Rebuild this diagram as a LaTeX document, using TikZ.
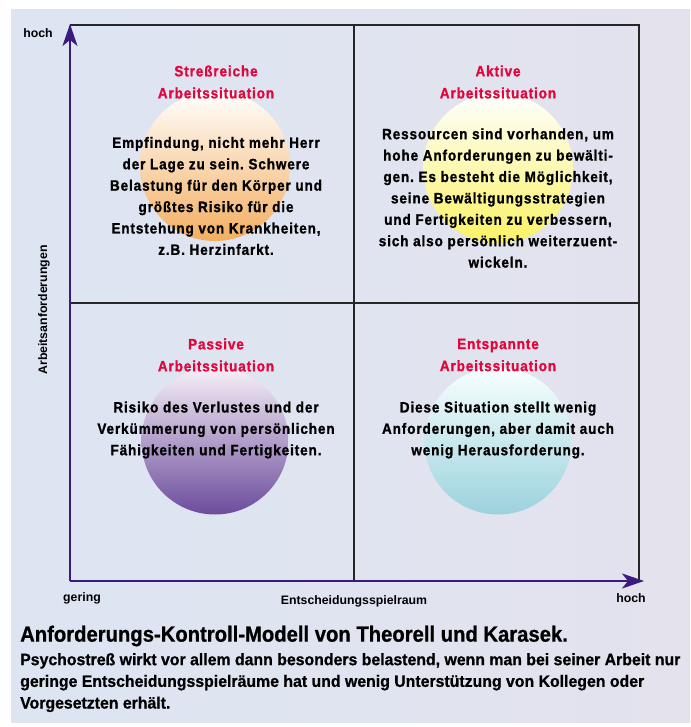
\documentclass[tikz,border=0pt]{standalone}
\usepackage{fontspec}
\setmainfont{Liberation Sans}
\newfontfamily\quadfont{Liberation Sans Bold}[FakeStretch=0.9,LetterSpace=6,FakeBold=1.2]
\newfontfamily\capfont{Liberation Sans Bold}[FakeStretch=0.92,FakeBold=0.8]
\newfontfamily\captextfont{Liberation Sans Bold}[FakeStretch=0.96,FakeBold=0.8]
\newfontfamily\axfont{Liberation Sans Bold}
\usepackage{tikz}
\usetikzlibrary{arrows.meta,positioning,calc}
\definecolor{titlered}{HTML}{E1063C}
\definecolor{axisviolet}{HTML}{3D1A80}
\definecolor{panelleft}{HTML}{DDE5F3}
\definecolor{panelright}{HTML}{E3E2ED}
\definecolor{orangebot}{RGB}{243,174,96}
\definecolor{yellowbot}{RGB}{250,242,100}
\definecolor{violetbot}{RGB}{107,76,156}
\definecolor{cyanbot}{RGB}{156,210,221}
\frenchspacing

\begin{document}
\begin{tikzpicture}[x=1pt,y=-1pt,
   qtitle/.style={align=center,text=titlered,font=\quadfont\fontsize{15}{22}\selectfont,inner sep=0pt},
   qtext/.style={align=center,font=\quadfont\fontsize{15}{21.4}\selectfont,inner sep=0pt},
   axlabel/.style={font=\axfont\fontsize{12.3}{14}\selectfont,inner sep=0pt},
   blob/.style={circle,minimum size=150pt,inner sep=0pt},
   frame/.style={draw=black!85,line width=1.4pt},
   axis/.style={draw=axisviolet,line width=2.4pt,-{Stealth[length=22pt,width=15pt,inset=6pt]}}]
  \useasboundingbox (0,0) rectangle (690,727);
  \fill[left color=panelleft,right color=panelright] (11,10) rectangle (690,722);

  % corners of the field
  \coordinate (o) at (70,581);
  \coordinate (nw) at (70,25);
  \coordinate (ne) at (639,25);
  \coordinate (se) at (639,581);
  \coordinate (nmid) at (354,25);
  \coordinate (smid) at (354,581);
  \coordinate (wmid) at (70,303);
  \coordinate (emid) at (639,303);
  \coordinate (ytip) at (70,24);
  \coordinate (xtip) at (644,581);

  % shaded circles
  \node[blob,top color=white,bottom color=orangebot] (cstress) at (215,166) {};
  \node[blob,top color=white,bottom color=yellowbot] (caktiv) at (498,168) {};
  \node[blob,minimum size=147pt,top color=violet!6!white,bottom color=violetbot] (cpassiv) at (215,441) {};
  \node[blob,minimum size=147pt,top color=cyan!3!white,bottom color=cyanbot] (centsp) at (498,441) {};

  % frame and quadrants
  \draw[frame] (nw) -- (ne) -- (se);
  \draw[frame] (nmid) -- (smid);
  \draw[frame] (wmid) -- (emid);
  \draw[axis] (o) -- (ytip);
  \draw[axis] (o) -- (xtip);

  % quadrant texts
  \node[qtitle] (tstress) at (216,82) {Streßreiche\\Arbeitssituation};
  \node[qtext] (bstress) at (216,196) {Empfindung, nicht mehr Herr\\der Lage zu sein. Schwere\\Belastung für den Körper und\\größtes Risiko für die\\Entstehung von Krankheiten,\\z.B. Herzinfarkt.};
  \node[qtitle] (taktiv) at (498,82) {Aktive\\Arbeitssituation};
  \node[qtext] (baktiv) at (498,198) {Ressourcen sind vorhanden, um\\hohe Anforderungen zu bewälti-\\gen. Es besteht die Möglichkeit,\\seine Bewältigungsstrategien\\und Fertigkeiten zu verbessern,\\sich also persönlich weiterzuent-\\wickeln.};
  \node[qtitle] (tpassiv) at (216,355) {Passive\\Arbeitssituation};
  \node[qtext] (bpassiv) at (216,430) {Risiko des Verlustes und der\\Verkümmerung von persönlichen\\Fähigkeiten und Fertigkeiten.};
  \node[qtitle] (tentsp) at (498,355) {Entspannte\\Arbeitssituation};
  \node[qtext] (bentsp) at (498,430) {Diese Situation stellt wenig\\Anforderungen, aber damit auch\\wenig Herausforderung.};

  % axis labels
  \node[axlabel] (yhoch) at (38,33) {hoch};
  \node[axlabel,rotate=90] (ylab) at (44,310) {Arbeitsanforderungen};
  \node[axlabel] (xgering) at (82,598) {gering};
  \node[axlabel] (xlab) at (354,601) {Entscheidungsspielraum};
  \node[axlabel] (xhoch) at (631,598) {hoch};

  % caption
  \node[anchor=west,inner sep=0pt,font=\capfont\fontsize{22}{24}\selectfont] (capt) at (20,636) {Anforderungs-Kontroll-Modell von Theorell und Karasek.};
  \node[anchor=north west,align=left,inner sep=0pt,font=\captextfont\fontsize{16.5}{21.7}\selectfont] (capb) at (20,653) {Psychostreß wirkt vor allem dann besonders belastend, wenn man bei seiner Arbeit nur\\geringe Entscheidungsspielräume hat und wenig Unterstützung von Kollegen oder\\Vorgesetzten erhält.};
\end{tikzpicture}
\end{document}
